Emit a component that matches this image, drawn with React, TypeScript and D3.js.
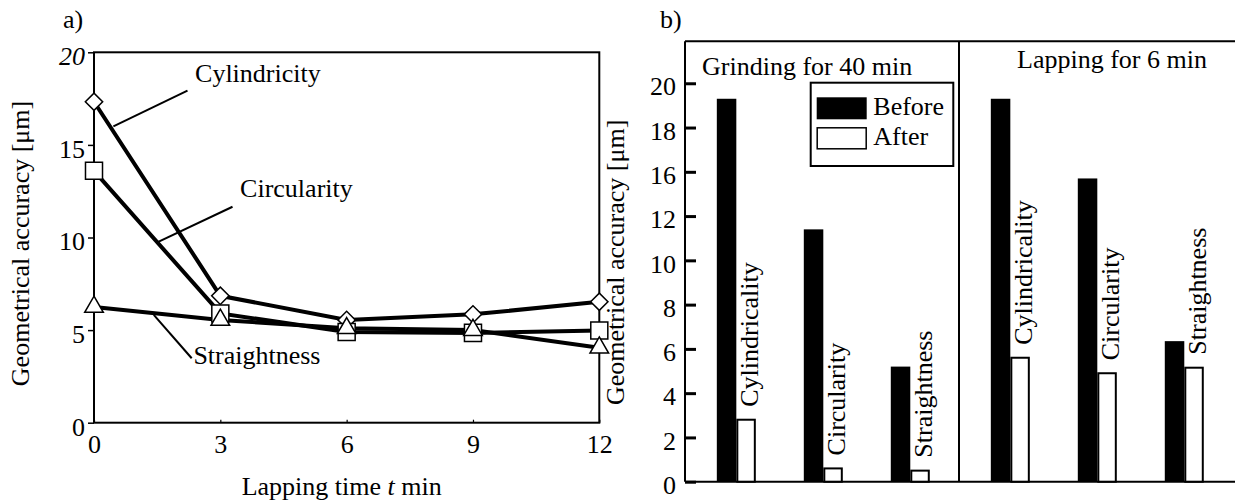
import React, { useEffect, useRef } from "react";
import * as d3 from "d3";

// panel a) lapping time series
const times = [0, 3, 6, 9, 12];
const cylindricity = [17.33, 6.85, 5.55, 5.85, 6.53];
const circularity = [13.6, 5.9, 4.9, 4.85, 4.98];
const straightness = [6.25, 5.55, 5.1, 5.0, 4.05];
const yTicksA = [0, 5, 10, 15, 20];

// panel b) before / after bars
const phases = ["Grinding for 40 min", "Lapping for 6 min"];
const measures = ["Cylindricality", "Circularity", "Straightness"];
const beforeValues = [
  [19.3, 11.4, 5.2],
  [19.3, 15.4, 6.35],
];
const afterValues = [
  [2.8, 0.6, 0.5],
  [5.6, 4.9, 5.15],
];
// the printed axis skips 14 (labels as in the original figure)
const yTicksB = [0, 2, 4, 6, 8, 10, 12, 16, 18, 20];

const FONT = "'Liberation Serif', 'Times New Roman', serif";
const FS = 26;

export default function App() {
  const ref = useRef<SVGSVGElement>(null);

  useEffect(() => {
    const svg = d3.select(ref.current);
    svg.selectAll("*").remove();
    svg.attr("font-family", FONT).attr("font-size", FS);

    // ---------- a) ----------
    const xA = d3.scaleLinear().domain([0, 12]).range([94, 599.3]);
    const yA = d3.scaleLinear().domain([0, 20]).range([422.7, 52.3]);

    svg.append("text").attr("x", 63).attr("y", 28).text("a)");

    svg
      .append("rect")
      .attr("x", xA(0))
      .attr("y", yA(20))
      .attr("width", xA(12) - xA(0))
      .attr("height", yA(0) - yA(20))
      .attr("fill", "none")
      .attr("stroke", "#000")
      .attr("stroke-width", 2);

    const yAxisA = svg
      .append("g")
      .attr("transform", `translate(${xA(0)},0)`)
      .call(d3.axisLeft(yA).tickValues(yTicksA).tickSize(6).tickPadding(3));
    yAxisA.select(".domain").remove();
    yAxisA.selectAll("line").attr("stroke-width", 1.5);
    yAxisA
      .selectAll("text")
      .attr("font-family", FONT)
      .attr("font-size", FS)
      .attr("fill", "#000")
      .attr("dy", "0.48em")
      .attr("font-style", (d: any) => (d === 20 ? "italic" : "normal"));

    const xAxisA = svg
      .append("g")
      .attr("transform", `translate(0,${yA(0)})`)
      .call(d3.axisBottom(xA).tickValues(times).tickSize(-3).tickPadding(12));
    xAxisA.select(".domain").remove();
    xAxisA.selectAll("line").attr("stroke-width", 1.2);
    xAxisA.selectAll("text").attr("font-family", FONT).attr("font-size", FS).attr("fill", "#000");

    svg
      .append("text")
      .attr("x", (xA(0) + xA(12)) / 2 - 5)
      .attr("y", 495)
      .attr("text-anchor", "middle")
      .call((t) => {
        t.append("tspan").text("Lapping time ");
        t.append("tspan").attr("font-style", "italic").text("t");
        t.append("tspan").text(" min");
      });

    svg
      .append("text")
      .attr("transform", `translate(29,${(yA(0) + yA(20)) / 2 + 6}) rotate(-90)`)
      .attr("text-anchor", "middle")
      .text("Geometrical accuracy [μm]");

    const line = d3
      .line<number>()
      .x((_, i) => xA(times[i]))
      .y((d) => yA(d));

    const seriesA = [
      { name: "Cylindricity", values: cylindricity, shape: "diamond" },
      { name: "Circularity", values: circularity, shape: "square" },
      { name: "Straightness", values: straightness, shape: "triangle" },
    ];

    seriesA.forEach((s) => {
      svg
        .append("path")
        .attr("d", line(s.values))
        .attr("fill", "none")
        .attr("stroke", "#000")
        .attr("stroke-width", 4);
    });

    const symbolFor = (shape: string) => {
      if (shape === "triangle") return d3.symbol().type(d3.symbolTriangle).size(150)();
      if (shape === "square") return d3.symbol().type(d3.symbolSquare).size(290)();
      return d3.symbol().type(d3.symbolSquare).size(150)();
    };

    seriesA.forEach((s) => {
      svg
        .append("g")
        .selectAll("path")
        .data(s.values)
        .join("path")
        .attr(
          "transform",
          (d, i) =>
            `translate(${xA(times[i])},${yA(d)})${s.shape === "diamond" ? " rotate(45)" : ""}`
        )
        .attr("d", symbolFor(s.shape))
        .attr("fill", "#fff")
        .attr("stroke", "#000")
        .attr("stroke-width", 1.5);
    });

    // callouts, placed in data units
    const callouts = [
      { text: "Cylindricity", tx: 2.4, ty: 18.41, from: [2.22, 17.93], to: [0.46, 16.0] },
      { text: "Circularity", tx: 3.47, ty: 12.2, from: [3.29, 11.66], to: [1.5, 9.74] },
      { text: "Straightness", tx: 2.36, ty: 3.17, from: [2.32, 3.48], to: [1.42, 5.82] },
    ];
    callouts.forEach((c) => {
      svg
        .append("line")
        .attr("x1", xA(c.from[0]))
        .attr("y1", yA(c.from[1]))
        .attr("x2", xA(c.to[0]))
        .attr("y2", yA(c.to[1]))
        .attr("stroke", "#000")
        .attr("stroke-width", 2);
      svg.append("text").attr("x", xA(c.tx)).attr("y", yA(c.ty)).text(c.text);
    });

    // ---------- b) ----------
    const step = 44.27;
    const yB = d3
      .scaleLinear()
      .domain(yTicksB)
      .range(yTicksB.map((_, i) => 481.7 - i * step));
    const top = 41.3;
    const base = yB(0);
    const left = 685;
    const right = 1235;

    const xOuter = d3.scaleBand().domain(phases).range([left, 1233]);
    const xInner = d3
      .scaleBand()
      .domain(measures)
      .range([0, xOuter.bandwidth()])
      .paddingInner(0)
      .paddingOuter(0.075)
      .align(0.6);

    svg.append("text").attr("x", 660).attr("y", 28).text("b)");

    const frame = svg.append("g").attr("stroke", "#000").attr("stroke-width", 2);
    frame.append("line").attr("x1", left).attr("x2", left).attr("y1", top).attr("y2", base);
    frame.append("line").attr("x1", left).attr("x2", right).attr("y1", top).attr("y2", top);
    frame.append("line").attr("x1", left).attr("x2", right).attr("y1", base).attr("y2", base);
    frame
      .append("line")
      .attr("x1", xOuter(phases[1])!)
      .attr("x2", xOuter(phases[1])!)
      .attr("y1", top)
      .attr("y2", base);

    const yAxisB = svg
      .append("g")
      .attr("transform", `translate(${left},0)`)
      .call(
        d3
          .axisLeft(yB)
          .tickValues(yTicksB)
          .tickSize(-11)
          .tickPadding(9)
          .tickFormat((d) => String(d))
      );
    yAxisB.select(".domain").remove();
    yAxisB.selectAll("line").attr("stroke-width", 3);
    yAxisB
      .selectAll("text")
      .attr("font-family", FONT)
      .attr("font-size", FS)
      .attr("fill", "#000")
      .attr("dy", "0.45em");

    svg
      .append("text")
      .attr("transform", `translate(624,${(116.7 + 408) / 2}) rotate(-90)`)
      .attr("text-anchor", "middle")
      .text("Geometrical accuracy [μm]");

    const titleOffsets = [17, 58];
    const titleBaselines = [75, 68.3];
    phases.forEach((p, pi) => {
      svg
        .append("text")
        .attr("x", xOuter(p)! + titleOffsets[pi])
        .attr("y", titleBaselines[pi])
        .text(p);
    });

    const barW = 19.5;
    const labelGap = 13;
    phases.forEach((p, pi) => {
      measures.forEach((m, mi) => {
        const c = xOuter(p)! + xInner(m)! + xInner.bandwidth() / 2;
        const b = beforeValues[pi][mi];
        const a = afterValues[pi][mi];
        svg
          .append("rect")
          .attr("x", c + 1)
          .attr("y", yB(a))
          .attr("width", barW - 2)
          .attr("height", base - yB(a))
          .attr("fill", "#fff")
          .attr("stroke", "#000")
          .attr("stroke-width", 2);
        svg
          .append("rect")
          .attr("x", c - barW)
          .attr("y", yB(b))
          .attr("width", barW)
          .attr("height", base - yB(b))
          .attr("fill", "#000");
        svg
          .append("text")
          .attr("transform", `translate(${c + barW + 2},${yB(a) - labelGap}) rotate(-90)`)
          .text(m);
      });
    });

    // legend
    const lg = svg.append("g");
    lg.append("rect")
      .attr("x", 810.7)
      .attr("y", 82.7)
      .attr("width", 142.6)
      .attr("height", 83.3)
      .attr("fill", "#fff")
      .attr("stroke", "#000")
      .attr("stroke-width", 2);
    lg.append("rect")
      .attr("x", 816.7)
      .attr("y", 97.3)
      .attr("width", 50)
      .attr("height", 22)
      .attr("fill", "#000");
    lg.append("rect")
      .attr("x", 817.2)
      .attr("y", 127.8)
      .attr("width", 49)
      .attr("height", 21)
      .attr("fill", "#fff")
      .attr("stroke", "#000")
      .attr("stroke-width", 1.5);
    lg.append("text").attr("x", 873.3).attr("y", 115).text("Before");
    lg.append("text").attr("x", 873.3).attr("y", 145).text("After");
  }, []);

  return (
    <div style={{ position: "absolute", left: 0, top: 0 }}>
      <svg ref={ref} width={1235} height={502} style={{ display: "block", background: "#fff" }} />
    </div>
  );
}
